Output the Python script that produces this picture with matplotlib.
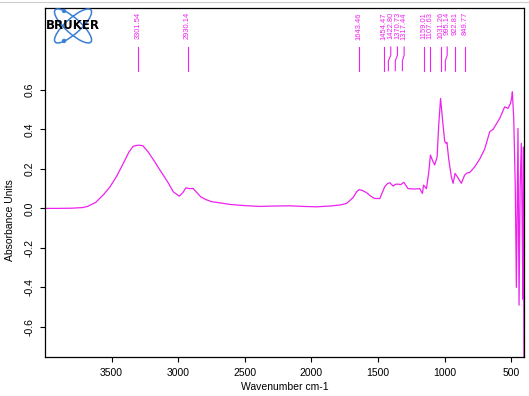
import numpy as np
import matplotlib
matplotlib.use('Agg')
import matplotlib.pyplot as plt
from matplotlib.patches import Ellipse, Circle
from matplotlib.lines import Line2D

plt.rcParams['font.family'] = ['Liberation Sans', 'DejaVu Sans']

# spectrum (wavenumber, absorbance)
wavenumber = [4000, 3900, 3800, 3720, 3680, 3620, 3560, 3512, 3460, 3412,
              3370, 3337, 3300, 3267, 3230, 3180, 3137, 3080, 3037, 2992,
              2965, 2942, 2915, 2888, 2860, 2830, 2797, 2750, 2687, 2612,
              2500, 2387, 2280, 2162, 2060, 1962, 1860, 1787, 1737, 1712,
              1687, 1660, 1642, 1615, 1587, 1555, 1525, 1487, 1465, 1450,
              1430, 1412, 1387, 1370, 1350, 1330, 1307, 1290, 1275, 1230,
              1187, 1175, 1167, 1159, 1137, 1120, 1107, 1090, 1075, 1057,
              1045, 1031, 1015, 1000, 990, 983, 970, 950, 937, 922,
              905, 875, 850, 830, 812, 775, 737, 700, 662, 637,
              610, 587, 565, 550, 535, 525, 515, 507, 497, 492,
              487, 482, 470, 462, 456, 450, 442, 434, 425, 418,
              413, 409, 405]
absorbance = [0.0, 0.0, 0.001, 0.004, 0.01, 0.03, 0.07, 0.109, 0.165, 0.228,
              0.285, 0.315, 0.32, 0.318, 0.29, 0.24, 0.194, 0.135, 0.084, 0.062,
              0.08, 0.104, 0.10, 0.101, 0.08, 0.058, 0.046, 0.034, 0.028, 0.02,
              0.014, 0.01, 0.012, 0.013, 0.01, 0.008, 0.012, 0.017, 0.025, 0.04,
              0.055, 0.085, 0.095, 0.09, 0.08, 0.062, 0.05, 0.05, 0.085, 0.11,
              0.125, 0.13, 0.113, 0.122, 0.123, 0.12, 0.132, 0.115, 0.10, 0.098,
              0.10, 0.085, 0.076, 0.118, 0.10, 0.18, 0.27, 0.24, 0.22, 0.26,
              0.42, 0.557, 0.44, 0.34, 0.33, 0.334, 0.25, 0.16, 0.127, 0.177,
              0.16, 0.127, 0.169, 0.18, 0.182, 0.21, 0.25, 0.30, 0.388, 0.40,
              0.43, 0.456, 0.49, 0.514, 0.51, 0.506, 0.52, 0.53, 0.56, 0.59,
              0.52, 0.46, 0.1, -0.40, 0.0, 0.405, -0.49, 0.1, 0.33, -0.1,
              -0.46, 0.31, -0.8]

peaks = [3301.54, 2930.14, 1643.46, 1454.47, 1422.80, 1370.73, 1317.44,
         1159.01, 1107.63, 1031.26, 995.14, 922.81, 849.77]

yticks = [-0.6, -0.4, -0.2, 0.0, 0.2, 0.4, 0.6]
xticks = [3500, 3000, 2500, 2000, 1500, 1000, 500]

MAG = '#ee22ee'

fig = plt.figure(figsize=(5.29, 3.96), dpi=100)
ax = fig.add_axes([0.085, 0.0997, 0.9055, 0.8813])
ax.plot(wavenumber, absorbance, color=MAG, lw=0.9)
ax.set_xlim(4000, 405)
ax.set_ylim(-0.75, 1.017)
ax.set_xticks(xticks)
ax.set_yticks(yticks)
ax.set_yticklabels(['%.1f' % v for v in yticks], rotation=90, va='center')
ax.tick_params(axis='both', direction='out', length=3.5, width=0.8, labelsize=7.5)
ax.tick_params(axis='x', pad=5)
ax.tick_params(axis='y', pad=4)
for s in ax.spines.values():
    s.set_linewidth(0.9)
ax.set_xlabel('Wavenumber cm-1', fontsize=7.5, labelpad=3)
ax.set_ylabel('Absorbance Units', fontsize=7.5)
ax.yaxis.set_label_coords(-0.063, 0.39)

# peak labels, pushed apart where they would overlap
gap = 50
lab_x = []
for p in peaks:
    if lab_x and lab_x[-1] - p < gap:
        lab_x.append(lab_x[-1] - gap)
    else:
        lab_x.append(p)
for p, lx in zip(peaks, lab_x):
    ax.text(lx, 0.994, '%.2f' % p, rotation=90, va='top', ha='center',
            color=MAG, fontsize=5.4)
    ax.plot([lx, lx, p, p], [0.817, 0.776, 0.747, 0.697], color=MAG, lw=0.8)

# logo
lax = fig.add_axes([0.085, 0.889, 0.108, 0.091])
lax.set_xlim(0, 57)
lax.set_ylim(0, 36)
lax.set_aspect('equal')
lax.axis('off')
blue = '#3a7fd5'
for ang in (42, -42):
    lax.add_patch(Ellipse((28, 18), 48, 15, angle=ang, fill=False, ec=blue, lw=1.1))
lax.add_patch(Circle((19, 33), 1.5, color=blue))
lax.add_patch(Circle((19, 3), 1.5, color=blue))
lax.text(28, 18.5, 'BRUKER', ha='center', va='center', fontsize=8.5,
         fontweight='bold', family='DejaVu Sans', color='black')

fig.add_artist(Line2D([0, 1], [0.995, 0.995], color='#cccccc', lw=0.8))

fig.savefig('out.png', dpi=100)
